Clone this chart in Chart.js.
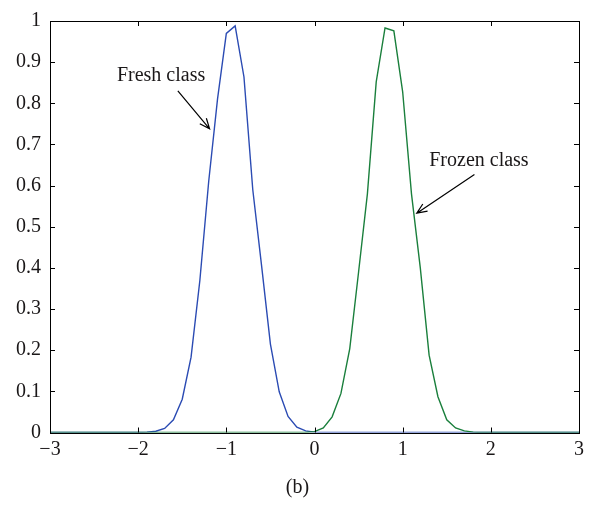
<!DOCTYPE html>
<html>
<head>
<meta charset="utf-8">
<script src="https://cdn.jsdelivr.net/npm/chart.js@4.4.1/dist/chart.umd.min.js"></script>
<style>
  body { margin: 0; background: #fff; }
  canvas { display: block; }
</style>
</head>
<body>
<canvas id="myChart" width="595" height="517"></canvas>
<script>
// x grid of both curves
const xValues = [
  -3.0, -2.9, -2.8, -2.7, -2.6, -2.5, -2.4, -2.3, -2.2, -2.1,
  -2.0, -1.9, -1.8, -1.7, -1.6, -1.5, -1.4, -1.3, -1.2, -1.1,
  -1.0, -0.9, -0.8, -0.7, -0.6, -0.5, -0.4, -0.3, -0.2, -0.1,
  0.0, 0.1, 0.2, 0.3, 0.4, 0.5, 0.6, 0.7, 0.8, 0.9,
  1.0, 1.1, 1.2, 1.3, 1.4, 1.5, 1.6, 1.7, 1.8, 1.9,
  2.0, 2.1, 2.2, 2.3, 2.4, 2.5, 2.6, 2.7, 2.8, 2.9,
  3.0,
];

const freshClass = [
  0, 0, 0, 0, 0, 0, 0, 0, 0, 0,
  0, 0.001, 0.003, 0.01, 0.031, 0.081, 0.183, 0.37, 0.61, 0.81,
  0.97, 0.988, 0.864, 0.59, 0.405, 0.215, 0.099, 0.039, 0.013, 0.004,
  0.001, 0, 0, 0, 0, 0, 0, 0, 0, 0,
  0, 0, 0, 0, 0, 0, 0, 0, 0, 0,
  0, 0, 0, 0, 0, 0, 0, 0, 0, 0,
  0,
];

const frozenClass = [
  0, 0, 0, 0, 0, 0, 0, 0, 0, 0,
  0, 0, 0, 0, 0, 0, 0, 0, 0, 0,
  0, 0, 0, 0, 0, 0, 0, 0, 0, 0,
  0.002, 0.011, 0.038, 0.095, 0.204, 0.39, 0.58, 0.852, 0.983, 0.976,
  0.828, 0.58, 0.4, 0.188, 0.087, 0.031, 0.011, 0.004, 0.001, 0,
  0, 0, 0, 0, 0, 0, 0, 0, 0, 0,
  0,
];

const xTicks = [-3, -2, -1, 0, 1, 2, 3];
const yTicks = [0, 0.1, 0.2, 0.3, 0.4, 0.5, 0.6, 0.7, 0.8, 0.9, 1];

// labels with arrows, in data units
const notes = [
  { text: "Fresh class", x: -1.74, y: 0.868, from: [-1.55, 0.83], to: [-1.19, 0.738] },
  { text: "Frozen class", x: 1.865, y: 0.66, from: [1.814, 0.627], to: [1.16, 0.533] },
];

const serif = '"Liberation Serif", "DejaVu Serif", serif';
const textColor = "#1a1718";

function pts(ys) {
  return xValues.map((x, i) => ({ x: x, y: ys[i] }));
}

const matlabBox = {
  id: "matlabBox",
  afterDraw(chart) {
    const { ctx, chartArea: a, scales } = chart;
    const xs = scales.x;
    const ys = scales.y;
    ctx.save();
    ctx.strokeStyle = "#000";
    ctx.lineWidth = 1;
    ctx.strokeRect(Math.round(a.left) + 0.5, Math.round(a.top) + 0.5,
      Math.round(a.right - a.left), Math.round(a.bottom - a.top));

    const tl = 5;
    ctx.beginPath();
    xTicks.forEach((v) => {
      const px = Math.round(xs.getPixelForValue(v)) + 0.5;
      ctx.moveTo(px, a.bottom);
      ctx.lineTo(px, a.bottom - tl);
      ctx.moveTo(px, a.top);
      ctx.lineTo(px, a.top + tl);
    });
    yTicks.forEach((v) => {
      const py = Math.round(ys.getPixelForValue(v)) + 0.5;
      ctx.moveTo(a.left, py);
      ctx.lineTo(a.left + tl, py);
      ctx.moveTo(a.right, py);
      ctx.lineTo(a.right - tl, py);
    });
    ctx.stroke();

    // annotations
    ctx.fillStyle = textColor;
    ctx.font = "20px " + serif;
    ctx.textAlign = "center";
    ctx.textBaseline = "middle";
    notes.forEach((n) => {
      ctx.fillText(n.text, xs.getPixelForValue(n.x), ys.getPixelForValue(n.y));
      const x0 = xs.getPixelForValue(n.from[0]);
      const y0 = ys.getPixelForValue(n.from[1]);
      const x1 = xs.getPixelForValue(n.to[0]);
      const y1 = ys.getPixelForValue(n.to[1]);
      const ang = Math.atan2(y1 - y0, x1 - x0);
      const h = 11;
      ctx.beginPath();
      ctx.moveTo(x0, y0);
      ctx.lineTo(x1, y1);
      ctx.moveTo(x1 - h * Math.cos(ang - 0.4), y1 - h * Math.sin(ang - 0.4));
      ctx.lineTo(x1, y1);
      ctx.lineTo(x1 - h * Math.cos(ang + 0.4), y1 - h * Math.sin(ang + 0.4));
      ctx.strokeStyle = "#000";
      ctx.lineWidth = 1.2;
      ctx.stroke();
    });

    // caption
    ctx.font = "20px " + serif;
    ctx.fillText("(b)", chart.width / 2, 488);
    ctx.restore();
  },
};

const ctx = document.getElementById("myChart");

new Chart(ctx, {
  type: "line",
  data: {
    datasets: [
      {
        label: "Frozen class",
        data: pts(frozenClass),
        borderColor: "#1a7f3c",
        borderWidth: 1.4,
        pointRadius: 0,
        tension: 0,
        order: 0,
      },
      {
        label: "Fresh class",
        data: pts(freshClass),
        borderColor: "#2b4bb3",
        borderWidth: 1.4,
        pointRadius: 0,
        tension: 0,
        order: 1,
      },
    ],
  },
  options: {
    responsive: false,
    animation: false,
    devicePixelRatio: 1,
    layout: {
      padding: { top: 15, right: 16, left: 0, bottom: 0 },
    },
    plugins: {
      legend: { display: false },
      tooltip: { enabled: false },
    },
    scales: {
      x: {
        type: "linear",
        min: -3,
        max: 3,
        afterFit: (s) => { s.height = 84.5; },
        afterBuildTicks: (s) => { s.ticks = xTicks.map((v) => ({ value: v })); },
        grid: { display: false, drawTicks: false },
        border: { display: false },
        ticks: {
          padding: 5,
          color: textColor,
          font: { family: serif, size: 20 },
          callback: (v) => String(v).replace("-", "\u2212"),
        },
      },
      y: {
        min: 0,
        max: 1,
        afterFit: (s) => { s.width = 50; },
        afterBuildTicks: (s) => { s.ticks = yTicks.map((v) => ({ value: v })); },
        grid: { display: false, drawTicks: false },
        border: { display: false },
        ticks: {
          padding: 9,
          color: textColor,
          font: { family: serif, size: 20 },
          callback: (v) => (v === 0 || v === 1 ? String(v) : v.toFixed(1)),
        },
      },
    },
  },
  plugins: [matlabBox],
});
</script>
</body>
</html>
